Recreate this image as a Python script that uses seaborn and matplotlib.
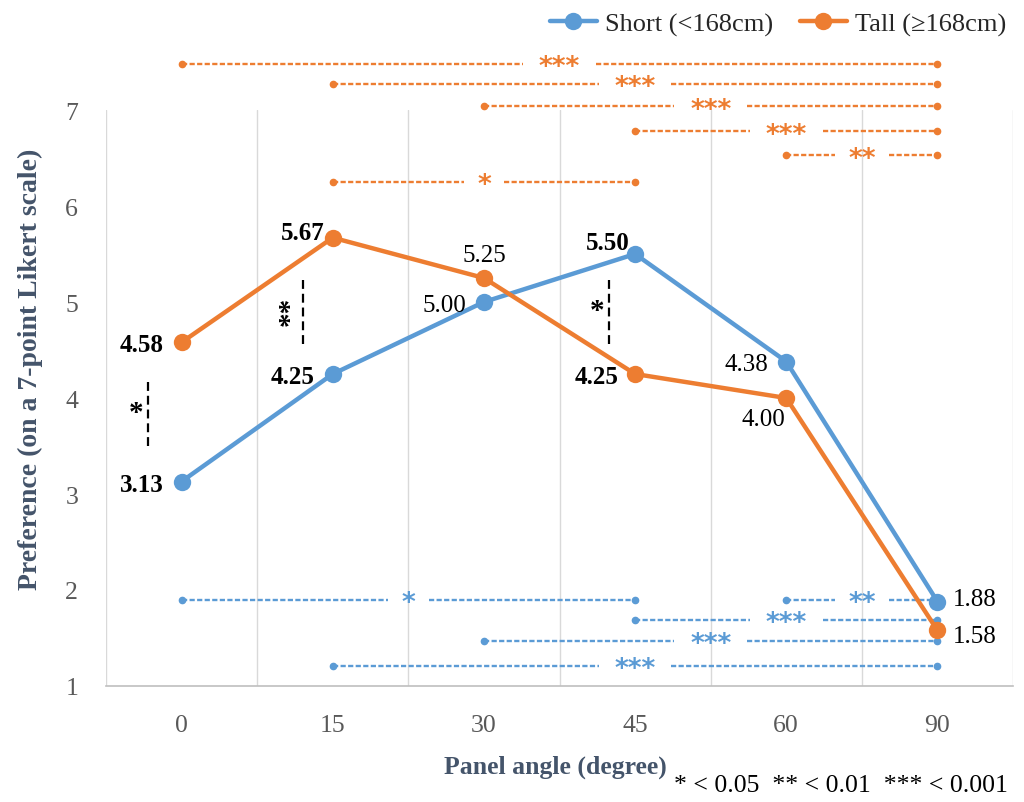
import numpy as np
import pandas as pd
import matplotlib
matplotlib.use('Agg')
import matplotlib.pyplot as plt
from matplotlib.lines import Line2D
import seaborn as sns

# ---------------- data ----------------
angles = ['0', '15', '30', '45', '60', '90']
short_vals = [3.13, 4.25, 5.00, 5.50, 4.38, 1.88]
tall_vals = [4.58, 5.67, 5.25, 4.25, 4.00, 1.58]
series_names = ['Short (<168cm)', 'Tall (\u2265168cm)']

# pairwise significance within group (start idx, end idx, level, stars)
tall_sig_start = [0, 1, 2, 3, 4, 1]
tall_sig_end = [5, 5, 5, 5, 5, 3]
tall_sig_y = [7.48, 7.27, 7.04, 6.78, 6.53, 6.25]
tall_sig_stars = ['***', '***', '***', '***', '**', '*']

short_sig_start = [0, 4, 3, 2, 1]
short_sig_end = [3, 5, 5, 5, 5]
short_sig_y = [1.90, 1.90, 1.69, 1.47, 1.21]
short_sig_stars = ['*', '**', '***', '***', '***']

# between-group significance at given angles
between_idx = [0, 1, 3]
between_stars = ['*', '**', '*']
between_lo = [3.50, 4.56, 4.56]
between_hi = [4.20, 5.26, 5.26]

footnote = '* < 0.05  ** < 0.01  *** < 0.001'

# ---------------- style ----------------
BLUE = '#5B9BD5'
ORANGE = '#ED7D31'
GRID = '#D9D9D9'
TICK = '#595959'
TITLE = '#44546A'
SERIF = 'Liberation Serif'

sns.set_theme(style='white')
plt.rcParams['font.family'] = [SERIF, 'DejaVu Sans']

fig = plt.figure(figsize=(10.24, 8.03), dpi=100)
ax = fig.add_axes([106 / 1024, 1 - 687 / 803, 907 / 1024, 576 / 803])

df = pd.DataFrame({
    'idx': list(range(len(angles))) * 2,
    'value': short_vals + tall_vals,
    'group': [series_names[0]] * len(angles) + [series_names[1]] * len(angles),
})

# vertical category-boundary gridlines
for b in np.arange(-0.5, len(angles), 1.0):
    ax.axvline(b, color=GRID, lw=1.0, zorder=0)

sns.lineplot(data=df, x='idx', y='value', hue='group', hue_order=series_names,
             palette=[BLUE, ORANGE], marker='o', markersize=12.5,
             markeredgewidth=0, linewidth=3.2, ax=ax, legend=False, zorder=5)

ax.set_xlim(-0.5, len(angles) - 0.5)
ax.set_ylim(1, 7)
ax.set_xticks(range(len(angles)))
ax.set_xticklabels(angles)
ax.set_yticks(range(1, 8))
ax.tick_params(axis='both', length=0, labelsize=18.5, labelcolor=TICK, pad=20)
for lbl in ax.get_xticklabels() + ax.get_yticklabels():
    lbl.set_family(SERIF)
for s in ['top', 'right', 'left']:
    ax.spines[s].set_visible(False)
ax.spines['bottom'].set_color('#BFBFBF')
ax.spines['bottom'].set_linewidth(1.2)

ax.set_xlabel('Panel angle (degree)', fontsize=18.5, fontweight='bold', color=TITLE, family=SERIF)
ax.xaxis.label.set_va('center')
ax.xaxis.set_label_coords(0.496, -0.139)
ax.set_ylabel('Preference (on a 7-point Likert scale)', fontsize=20, fontweight='bold',
              color=TITLE, family=SERIF)
ax.yaxis.label.set_va('center')
ax.yaxis.set_label_coords(-0.083, 0.552)

# ---------------- data labels ----------------
px = 0.72  # pixels -> points
short_lbl = [(-18, 0, 'right', True), (-18, 0, 'right', True), (-18, 0, 'right', False),
             (-5, 14, 'right', True), (-18, 0, 'right', False), (15, 5, 'left', False)]
tall_lbl = [(-18, 0, 'right', True), (-8, 8, 'right', True), (0, 26, 'center', False),
            (-17, 0, 'right', True), (-23, -19, 'center', False), (15, -3, 'left', False)]
for vals, specs in [(short_vals, short_lbl), (tall_vals, tall_lbl)]:
    for i, (v, (dx, dy, ha, bold)) in enumerate(zip(vals, specs)):
        ax.annotate(f'{v:.2f}', (i, v), xytext=(dx * px, dy * px), textcoords='offset points',
                    ha=ha, va='center_baseline', fontsize=18, family=SERIF,
                    fontweight='bold' if bold else 'normal', color='black', zorder=7)

# ---------------- significance bars ----------------
gap = {'*': 0.27, '**': 0.36, '***': 0.48}
dash = (0, (2.2, 1.0))


def sig_bar(x0, x1, y, stars, color):
    c = (x0 + x1) / 2
    g = gap[stars] / 2
    kw = dict(color=color, lw=1.7, linestyle=dash, clip_on=False, zorder=3)
    ax.plot([x0, c - g], [y, y], **kw)
    ax.plot([c + g, x1], [y, y], **kw)
    ax.plot([x0, x1], [y, y], linestyle='none', marker='o', markersize=4.5,
            color=color, clip_on=False, zorder=3)
    ax.annotate(stars, (c, y), xytext=(0, -7.5), textcoords='offset points',
                ha='center', va='baseline', fontsize=19, fontweight='bold',
                family='DejaVu Sans', color=color, annotation_clip=False, zorder=4)


for a, b, y, s in zip(tall_sig_start, tall_sig_end, tall_sig_y, tall_sig_stars):
    sig_bar(a, b, y, s, ORANGE)
for a, b, y, s in zip(short_sig_start, short_sig_end, short_sig_y, short_sig_stars):
    sig_bar(a, b, y, s, BLUE)

# between-group markers
line_dx = [-0.22, -0.20, -0.17]
star_dx = [-0.30, -0.28, -0.25]
for i, s, lo, hi, ldx, sdx in zip(between_idx, between_stars, between_lo, between_hi, line_dx, star_dx):
    ax.plot([i + ldx, i + ldx], [lo, hi], color='black', lw=1.6,
            linestyle=(0, (4, 2.2)), zorder=3)
    ax.text(i + sdx, (lo + hi) / 2, s, rotation=90 if len(s) > 1 else 0,
            ha='center', va='center', fontsize=21, fontweight='bold',
            family=SERIF, color='black', zorder=4)

# ---------------- legend ----------------
handles = [Line2D([], [], color=BLUE, lw=3.2, marker='o', markersize=12.5, markeredgewidth=0),
           Line2D([], [], color=ORANGE, lw=3.2, marker='o', markersize=12.5, markeredgewidth=0)]
fig.legend(handles, series_names, loc='center right', bbox_to_anchor=(1030 / 1024, 1 - 25 / 803),
           ncol=2, frameon=False, prop={'family': SERIF, 'size': 19},
           handlelength=1.8, handletextpad=0.3, columnspacing=1.0)

fig.text(1008 / 1024, 1 - 786 / 803, footnote, ha='right', va='center',
         fontsize=18.5, family=SERIF, color='black')

fig.savefig('out.png', dpi=100)
